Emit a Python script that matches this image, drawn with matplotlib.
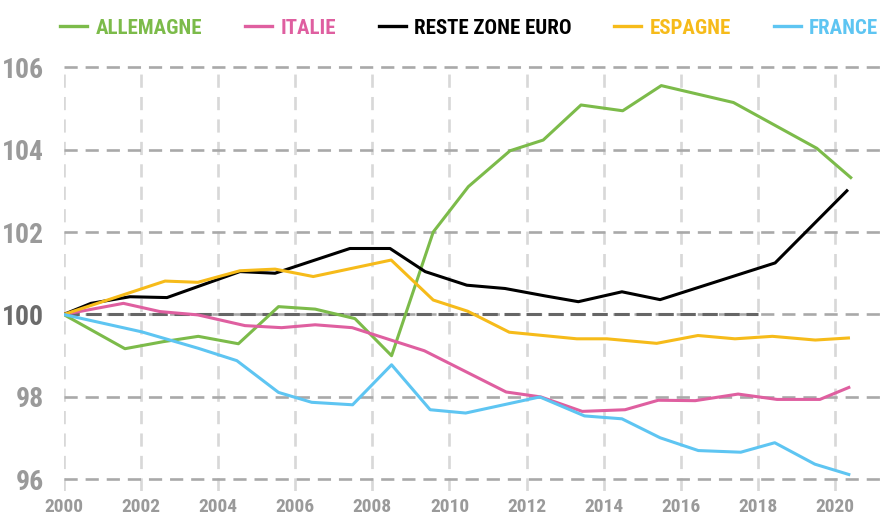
import matplotlib
matplotlib.use('Agg')
import matplotlib.pyplot as plt
from matplotlib import font_manager
from matplotlib.lines import Line2D

# pick a condensed face if one is around (the original uses a tall narrow font)
fonts = font_manager.fontManager.ttflist
names = {f.name for f in fonts}
STRETCH = 'normal'
if 'Roboto Condensed' in names:
    FONT = 'Roboto Condensed'
elif 'Liberation Sans Narrow' in names:
    FONT = 'Liberation Sans Narrow'
elif any(f.name == 'DejaVu Sans' and f.stretch == 'condensed' for f in fonts):
    FONT, STRETCH = 'DejaVu Sans', 'condensed'
else:
    FONT = 'DejaVu Sans'
plt.rcParams['font.family'] = [FONT, 'DejaVu Sans']
plt.rcParams['font.stretch'] = STRETCH

# values (index, 2000 = 100)
allemagne_x = [2000.0, 2001.59, 2002.58, 2003.49, 2004.53, 2005.57, 2006.52, 2007.55, 2008.5,
               2009.58, 2010.49, 2011.57, 2012.43, 2013.41, 2014.49, 2015.49, 2017.36, 2019.52, 2020.4]
allemagne_y = [100.0, 99.17, 99.34, 99.47, 99.29, 100.19, 100.13, 99.9, 99.0,
               102.0, 103.1, 103.97, 104.23, 105.08, 104.94, 105.55, 105.14, 104.03, 103.32]

italie_x = [2000.0, 2001.55, 2002.5, 2003.48, 2004.7, 2005.65, 2006.52, 2007.48, 2009.35,
            2011.47, 2012.37, 2013.44, 2014.55, 2015.41, 2016.37, 2017.48, 2018.49, 2019.6, 2020.35]
italie_y = [100.0, 100.27, 100.07, 99.99, 99.73, 99.68, 99.75, 99.68, 99.12,
            98.12, 98.0, 97.65, 97.69, 97.92, 97.91, 98.07, 97.94, 97.94, 98.23]

reste_x = [2000.0, 2000.71, 2001.72, 2002.68, 2004.57, 2005.48, 2007.42, 2008.46, 2009.37,
           2010.45, 2011.44, 2012.48, 2013.34, 2014.47, 2015.46, 2018.44, 2020.3]
reste_y = [100.0, 100.27, 100.43, 100.41, 101.04, 101.0, 101.6, 101.6, 101.04,
           100.71, 100.63, 100.45, 100.31, 100.55, 100.36, 101.25, 103.0]

espagne_x = [2000.0, 2002.63, 2003.48, 2004.57, 2005.48, 2006.47, 2008.49, 2009.58, 2010.47,
             2011.55, 2013.3, 2014.08, 2015.37, 2016.44, 2017.4, 2018.37, 2019.48, 2020.34]
espagne_y = [100.0, 100.81, 100.78, 101.06, 101.1, 100.92, 101.32, 100.35, 100.08,
             99.57, 99.41, 99.41, 99.3, 99.49, 99.41, 99.47, 99.38, 99.43]

france_x = [2000.0, 2002.02, 2003.49, 2004.49, 2005.57, 2006.43, 2007.49, 2008.5, 2009.5,
            2010.42, 2012.34, 2013.5, 2014.47, 2015.46, 2016.45, 2017.55, 2018.43, 2019.47, 2020.35]
france_y = [100.0, 99.58, 99.18, 98.88, 98.11, 97.87, 97.81, 98.78, 97.69,
            97.61, 98.0, 97.54, 97.47, 97.01, 96.7, 96.66, 96.89, 96.37, 96.12]

series = [
    ('ALLEMAGNE', allemagne_x, allemagne_y, '#7cbb4a'),
    ('ITALIE', italie_x, italie_y, '#df5fa0'),
    ('RESTE ZONE EURO', reste_x, reste_y, '#000000'),
    ('ESPAGNE', espagne_x, espagne_y, '#f6bb1a'),
    ('FRANCE', france_x, france_y, '#5ec5f2'),
]

yticks = [96, 98, 100, 102, 104, 106]
xticks = list(range(2000, 2021, 2))

fig = plt.figure(figsize=(8.82, 5.19), dpi=100)
ax = fig.add_axes([0.0721, 0.054, 1 - 0.0721, 0.8184])

for name, xs, ys, col in series:
    ax.plot(xs, ys, color=col, lw=2.2, zorder=3)

# base 100 reference
ax.hlines(100, 2000, 2018, color='#666666', lw=2.2, linestyles=(0, (5, 2.2)), zorder=2)

ax.set_xlim(2000, 2021.21)
ax.set_ylim(95.72, 106.02)
ax.set_xticks(xticks)
ax.set_yticks(yticks)
ax.set_axisbelow(True)
ax.xaxis.grid(True, color='#d8d8d8', lw=1.9, linestyle=(0, (5, 3.5)))
ax.yaxis.grid(True, color='#a9a9a9', lw=1.9, linestyle=(0, (5, 3)))
for s in ax.spines.values():
    s.set_visible(False)
ax.tick_params(length=0)
ax.tick_params(axis='y', pad=14, labelsize=20, labelcolor='#9a9a9a')
ax.tick_params(axis='x', pad=5, labelsize=14, labelcolor='#9a9a9a')
for lab in ax.get_yticklabels() + ax.get_xticklabels():
    lab.set_fontweight('bold')
for lab, v in zip(ax.get_yticklabels(), yticks):
    if v == 100:
        lab.set_color('#6b6b6b')

handles = [Line2D([], [], color=c, lw=2.4) for _, _, _, c in series]
labels = [n for n, _, _, _ in series]
leg = fig.legend(handles, labels, loc='upper center', bbox_to_anchor=(0.532, 1.0), ncol=5,
                 frameon=False, handlelength=1.3, handletextpad=0.4, columnspacing=2.05,
                 prop={'size': 15, 'weight': 'bold', 'stretch': STRETCH})
for t, (_, _, _, c) in zip(leg.get_texts(), series):
    t.set_color(c)

fig.savefig('out.png', dpi=100)
